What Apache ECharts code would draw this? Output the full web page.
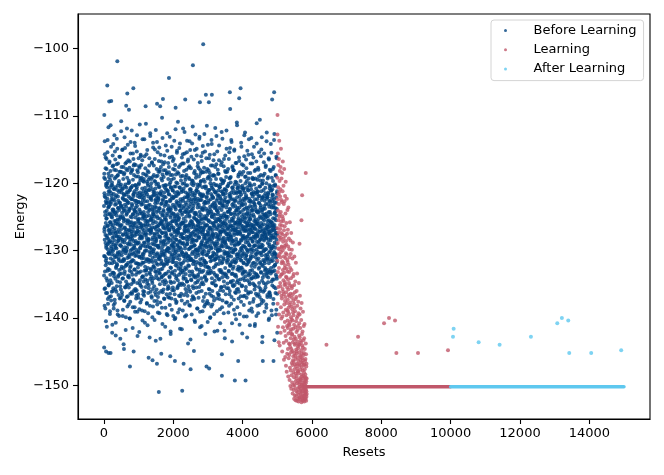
<!DOCTYPE html>
<html>
<head>
<meta charset="utf-8">
<script src="https://cdn.jsdelivr.net/npm/echarts@6.0.0/dist/echarts.min.js"></script>
<style>
html,body{margin:0;padding:0;background:#fff;}
#chart{width:664px;height:475px;}
</style>
</head>
<body>
<div id="chart"></div>
<script>
// ---------------- data ----------------
const xTicks = [0, 2000, 4000, 6000, 8000, 10000, 12000, 14000];
const yTicks = [-150, -140, -130, -120, -110, -100];
const seriesNames = ['Before Learning', 'Learning', 'After Learning'];

// resets 0..5000: energies read (estimated) from the dense cloud; two interleaved samples of the resets
const beforeStart = 0;
const beforeEnd = 5000;
const beforeEnergyA = [
-123.4,-130.8,-118.6,-127.2,-135.7,-121.9,-113.8,-126.5,-133.1,-119.4,-124.8,-138.6,-128.9,-116.2,-131.5,-122.7,-136.3,-120.1,-129.6,-125.3,
-131.2,-117.9,-124.1,-141.3,-127.8,-120.6,-134.5,-122.3,-115.4,-129.1,-126.4,-137.2,-119.8,-132.7,-123.6,-128.3,-111.7,-135.1,-121.2,-130.3,
-119.1,-128.7,-134.9,-122.8,-126.9,-116.8,-131.9,-124.5,-139.4,-120.7,-127.5,-133.6,-118.2,-125.8,-130.1,-123.1,-136.8,-114.6,-129.4,-121.5,
-127.1,-122.4,-136.1,-118.9,-130.6,-125.1,-142.2,-120.3,-128.1,-133.3,-115.9,-124.2,-131.4,-126.2,-117.4,-135.6,-123.9,-129.8,-138.1,-121.6,
-124.6,-133.8,-120.9,-128.5,-112.9,-131.7,-126.7,-119.3,-137.8,-123.2,-129.3,-116.5,-134.2,-122.1,-127.4,-140.7,-125.6,-118.1,-132.4,-130.9,
-121.8,-129.7,-117.2,-135.3,-124.3,-127.9,-132.2,-114.9,-126.1,-138.9,-120.4,-130.5,-123.7,-118.8,-133.9,-128.6,-122.6,-136.6,-125.9,-131.1,
-128.2,-119.7,-132.9,-125.4,-116.1,-130.2,-122.9,-137.1,-127.3,-121.1,-134.7,-124.9,-143.1,-118.3,-129.2,-126.3,-135.8,-120.2,-123.3,-110.8,
-133.4,-126.8,-121.4,-130.7,-118.4,-136.2,-124.4,-128.4,-115.1,-131.6,-122.2,-139.7,-127.7,-120.8,-134.1,-125.2,-129.9,-117.6,-132.6,-123.8,
-125.7,-118.7,-131.3,-137.4,-122.5,-128.8,-113.2,-133.5,-126.6,-120.5,-129.5,-135.4,-124.1,-117.1,-130.4,-141.8,-127.6,-121.7,-134.6,-123.5,
-130.1,-124.7,-116.9,-127.9,-136.9,-121.3,-132.1,-119.2,-126.0,-138.3,-123.0,-129.0,-114.3,-135.0,-125.5,-131.8,-120.0,-128.0,-133.7,-122.0,
-122.9,-135.5,-127.0,-119.9,-131.0,-124.0,-117.7,-133.0,-128.7,-140.1,-121.0,-126.2,-137.6,-130.0,-115.6,-125.0,-132.3,-118.5,-129.1,-123.7,
-127.5,-120.6,-133.2,-125.8,-112.2,-130.6,-123.1,-136.4,-128.3,-118.0,-131.4,-122.4,-138.4,-126.9,-119.5,-134.3,-124.6,-129.7,-116.4,-121.9,
-131.5,-126.5,-118.8,-135.9,-123.9,-129.3,-121.2,-132.8,-114.0,-127.8,-124.2,-139.1,-130.8,-120.3,-136.0,-125.1,-117.3,-128.6,-133.6,-122.6,
-124.3,-129.9,-136.7,-120.9,-127.3,-115.3,-131.9,-123.4,-134.8,-118.1,-126.7,-142.7,-121.5,-128.9,-132.5,-125.4,-119.0,-137.0,-130.3,-122.8,
-120.2,-132.0,-125.9,-117.5,-130.9,-127.2,-138.7,-122.1,-128.2,-111.3,-134.4,-124.5,-129.6,-119.6,-135.2,-126.0,-121.8,-133.1,-116.0,-127.9,
-129.2,-123.2,-137.3,-126.4,-119.2,-131.2,-121.6,-134.0,-128.0,-116.6,-125.3,-140.4,-130.5,-122.5,-133.9,-127.4,-118.6,-136.5,-124.8,-131.8,
-126.3,-134.6,-119.4,-128.8,-122.2,-136.1,-113.5,-130.2,-124.7,-139.0,-127.7,-120.7,-132.4,-125.6,-117.8,-129.4,-123.6,-135.4,-121.4,-131.6,
-133.0,-121.1,-127.6,-115.7,-130.0,-124.9,-137.9,-119.8,-128.5,-134.9,-122.7,-126.1,-141.1,-118.2,-131.3,-125.7,-120.4,-136.3,-129.0,-123.3,
-118.4,-128.4,-135.1,-123.8,-131.7,-126.9,-116.3,-133.3,-121.0,-129.5,-138.2,-124.0,-130.7,-112.6,-127.1,-134.2,-122.3,-120.5,-132.7,-125.5,
-127.0,-132.9,-120.0,-125.2,-136.8,-122.0,-129.8,-117.0,-134.5,-126.6,-123.5,-139.9,-131.1,-119.1,-128.1,-135.7,-124.4,-114.7,-130.1,-121.3,
-130.4,-124.6,-117.4,-129.1,-134.1,-121.7,-127.5,-137.5,-119.7,-132.6,-125.0,-115.0,-128.7,-136.2,-123.0,-131.5,-120.8,-126.8,-143.4,-122.4,
-125.8,-119.0,-133.7,-128.3,-121.9,-135.8,-124.3,-130.6,-113.9,-127.2,-138.0,-122.9,-129.3,-118.9,-132.1,-126.4,-136.9,-120.1,-124.1,-131.0,
-122.3,-131.3,-126.2,-116.7,-134.3,-129.6,-120.6,-127.9,-139.3,-123.7,-118.3,-133.4,-125.3,-130.9,-121.5,-137.7,-128.0,-115.8,-126.0,-132.8,
-128.6,-123.1,-136.0,-119.3,-130.3,-125.6,-133.9,-121.8,-127.4,-110.3,-131.9,-124.8,-140.9,-118.7,-129.4,-134.6,-122.6,-126.5,-117.2,-130.7,
-124.0,-129.0,-118.1,-132.3,-126.7,-137.1,-121.4,-128.5,-135.0,-123.4,-116.9,-130.5,-125.1,-133.5,-120.3,-127.3,-138.5,-122.1,-131.4,-114.4,
-131.9,-125.4,-120.9,-134.7,-127.8,-122.8,-136.5,-118.5,-129.9,-124.5,-132.0,-115.2,-126.3,-139.6,-121.2,-130.1,-123.9,-128.8,-135.3,-119.4,
-126.1,-133.1,-121.6,-128.2,-117.6,-131.6,-124.2,-137.0,-120.2,-127.0,-134.0,-113.1,-129.7,-122.5,-136.4,-125.9,-118.8,-132.5,-142.0,-123.6,
-120.7,-127.6,-134.8,-124.4,-130.8,-119.5,-126.6,-138.8,-122.0,-129.2,-116.1,-133.2,-125.7,-131.7,-121.1,-128.3,-135.5,-123.2,-117.9,-130.0,
-129.5,-122.2,-131.2,-116.4,-126.9,-135.9,-123.5,-128.9,-120.5,-133.6,-125.2,-140.2,-118.0,-130.4,-124.9,-137.3,-127.1,-121.9,-112.0,-132.2,
-123.9,-130.2,-125.5,-137.8,-119.9,-128.4,-133.8,-122.7,-127.7,-115.5,-131.1,-126.2,-135.6,-121.3,-129.1,-118.4,-134.4,-124.6,-139.2,-126.8,
-127.3,-121.5,-132.7,-118.6,-129.6,-125.1,-136.7,-123.3,-114.8,-131.3,-126.4,-134.9,-120.6,-128.6,-141.6,-124.1,-130.7,-117.3,-133.3,-122.8,
-132.4,-126.0,-119.6,-135.1,-123.8,-129.8,-121.0,-127.6,-137.4,-116.2,-130.3,-124.7,-133.0,-128.1,-118.9,-125.9,-138.9,-122.3,-131.8,-111.9,
-121.2,-128.9,-134.2,-125.3,-117.1,-130.9,-123.4,-136.6,-127.4,-120.0,-132.9,-126.5,-115.6,-129.3,-139.8,-124.3,-131.0,-119.1,-135.7,-122.9,
-125.6,-133.5,-120.4,-127.1,-130.6,-118.0,-136.2,-124.0,-128.3,-122.1,-134.6,-113.7,-129.0,-126.7,-137.6,-121.6,-131.5,-116.8,-123.7,-143.8,
-130.8,-122.6,-128.0,-135.3,-119.2,-126.3,-132.3,-121.7,-138.1,-124.8,-117.5,-129.7,-125.0,-133.7,-120.9,-127.8,-115.1,-136.1,-123.1,-131.2,
-124.2,-131.4,-117.8,-129.4,-126.6,-134.4,-120.1,-127.9,-139.5,-122.4,-130.5,-125.7,-114.1,-133.1,-128.4,-121.4,-136.8,-119.7,-126.1,-132.0,
-128.7,-120.3,-135.6,-123.0,-131.6,-116.5,-127.2,-133.9,-124.4,-129.2,-137.2,-121.8,-125.2,-118.2,-130.1,-140.6,-126.9,-122.2,-134.0,-112.8,
-122.7,-129.9,-126.4,-132.6,-118.7,-124.6,-136.3,-121.1,-128.5,-115.9,-131.7,-125.5,-134.7,-120.7,-127.5,-138.6,-123.6,-130.4,-117.0,-126.2,
-133.6,-125.8,-121.3,-128.1,-137.0,-123.2,-130.0,-119.0,-126.8,-135.4,-113.4,-129.5,-124.3,-132.8,-120.2,-127.3,-141.4,-122.5,-131.3,-118.1,
-126.6,-119.8,-131.9,-124.7,-129.1,-116.0,-134.1,-122.0,-128.8,-136.0,-121.9,-125.4,-133.2,-118.4,-130.2,-127.6,-139.0,-123.8,-114.5,-129.8,
-121.7,-130.6,-127.0,-135.0,-119.5,-125.9,-132.1,-123.5,-117.7,-128.2,-138.3,-124.9,-131.5,-120.5,-126.5,-133.8,-115.3,-129.3,-122.8,-142.4,
-129.0,-123.0,-136.4,-120.8,-127.7,-131.8,-118.3,-125.3,-134.3,-122.2,-130.7,-111.5,-128.6,-124.1,-137.5,-126.3,-119.3,-132.4,-121.5,-127.1,
-124.5,-132.5,-119.1,-129.4,-125.6,-137.9,-122.6,-130.0,-116.3,-127.9,-133.4,-121.0,-126.7,-135.8,-118.5,-128.3,-123.9,-140.0,-131.0,-120.0,
-131.6,-126.9,-122.4,-133.0,-117.4,-128.7,-124.2,-136.7,-120.4,-129.6,-114.2,-125.0,-134.8,-121.9,-127.4,-138.0,-123.4,-130.8,-118.9,-126.0,
-127.8,-120.9,-130.3,-124.6,-136.9,-118.8,-128.0,-133.3,-122.9,-126.4,-139.4,-115.7,-131.4,-125.2,-121.2,-134.5,-129.2,-123.1,-117.6,-132.3,
-123.6,-129.7,-135.2,-121.4,-127.5,-119.4,-132.0,-125.7,-113.0,-130.5,-124.0,-137.1,-128.1,-120.3,-133.7,-126.6,-141.9,-122.3,-129.0,-118.0,
-130.0,-124.3,-118.6,-131.1,-126.2,-134.2,-121.8,-128.4,-136.6,-116.6,-127.0,-132.9,-123.7,-129.9,-120.6,-125.5,-138.7,-122.0,-135.9,-127.7,
-125.1,-133.2,-120.2,-127.3,-130.9,-117.3,-124.8,-135.5,-122.5,-129.4,-112.4,-131.9,-126.1,-119.6,-134.0,-123.0,-128.9,-137.4,-121.3,-126.9,
-128.3,-121.6,-133.5,-125.9,-119.8,-131.3,-123.3,-139.3,-127.2,-116.4,-130.1,-124.5,-135.3,-120.9,-128.7,-122.7,-143.0,-126.4,-118.2,-132.6,
-122.1,-130.4,-126.0,-136.5,-118.4,-129.1,-124.9,-133.6,-121.1,-127.6,-114.9,-131.5,-125.3,-137.7,-123.2,-128.2,-120.5,-134.9,-126.8,-130.7,
-131.0,-125.0,-117.9,-129.5,-122.8,-135.6,-127.9,-120.1,-133.1,-124.2,-138.2,-126.5,-115.4,-130.2,-121.6,-128.5,-136.0,-123.9,-119.2,-132.1,
-126.2,-132.2,-121.9,-127.7,-119.1,-134.6,-124.6,-130.9,-113.6,-128.0,-136.9,-122.4,-129.7,-125.6,-140.8,-120.7,-131.6,-126.9,-117.5,-133.4,
-120.6,-128.6,-134.5,-123.5,-130.3,-126.3,-118.1,-132.4,-125.1,-137.3,-121.5,-127.4,-115.2,-131.7,-124.4,-135.1,-129.3,-122.6,-139.5,-127.0,
-129.8,-123.4,-131.8,-117.0,-126.7,-136.3,-121.3,-128.3,-133.9,-124.1,-119.9,-130.6,-125.8,-111.0,-134.7,-122.1,-127.5,-138.4,-120.8,-131.2,
-124.7,-130.5,-127.2,-135.7,-120.3,-125.5,-132.7,-118.7,-129.0,-122.9,-136.1,-126.1,-116.7,-133.0,-123.6,-141.0,-128.9,-121.2,-130.1,-125.9,
-127.6,-122.5,-134.3,-119.7,-131.4,-124.3,-128.4,-137.6,-121.7,-126.8,-114.6,-132.5,-123.3,-129.6,-117.2,-135.2,-125.4,-130.8,-120.4,-133.5,
-132.8,-126.4,-120.8,-129.3,-124.0,-136.8,-118.3,-127.8,-131.9,-122.3,-139.8,-125.7,-130.4,-116.0,-128.1,-134.4,-121.4,-126.6,-123.8,-112.5,
-123.1,-131.2,-125.2,-133.8,-119.0,-128.8,-135.4,-121.8,-127.1,-130.7,-117.8,-124.6,-137.0,-122.2,-129.9,-126.0,-142.9,-120.6,-132.0,-127.9,
-128.5,-121.0,-130.0,-126.3,-136.4,-123.7,-115.8,-131.6,-125.6,-119.3,-133.7,-127.4,-122.7,-138.9,-129.2,-124.5,-120.0,-135.0,-126.9,-131.3,
-125.4,-133.0,-118.5,-128.2,-122.6,-130.8,-127.0,-136.2,-120.9,-124.8,-113.3,-132.3,-126.2,-129.8,-121.5,-134.1,-123.5,-139.1,-117.1,-128.6,
-130.9,-124.1,-127.3,-119.4,-134.9,-122.8,-129.4,-116.2,-126.4,-137.2,-121.3,-131.8,-125.0,-133.3,-120.2,-128.0,-135.8,-123.2,-141.2,-126.7,
-122.4,-129.2,-135.3,-125.7,-118.0,-131.0,-123.9,-127.5,-133.5,-120.8,-126.1,-139.7,-124.2,-114.1,-130.5,-128.7,-121.6,-136.7,-127.8,-119.5,
-127.9,-133.9,-121.2,-126.0,-130.2,-117.7,-124.3,-136.5,-128.9,-122.0,-132.7,-125.3,-119.0,-134.8,-123.0,-129.5,-138.1,-121.9,-126.5,-110.6,
-124.9,-120.5,-131.7,-128.4,-136.0,-123.6,-127.1,-118.8,-133.2,-125.9,-130.3,-115.0,-129.1,-122.5,-137.8,-126.3,-132.1,-120.1,-143.6,-124.0,
-129.6,-126.8,-122.1,-134.0,-119.6,-127.6,-131.4,-124.7,-137.5,-121.0,-128.3,-116.9,-133.6,-125.5,-130.0,-123.4,-135.9,-118.6,-127.3,-131.9,
-123.8,-132.6,-127.7,-120.7,-129.8,-125.1,-135.0,-117.4,-126.9,-131.2,-122.3,-138.5,-128.1,-113.8,-124.5,-133.8,-121.8,-130.6,-126.1,-136.9,
-131.4,-125.6,-119.3,-128.9,-123.1,-134.7,-126.5,-121.4,-132.9,-127.2,-140.3,-124.3,-116.5,-130.3,-122.6,-129.4,-136.2,-120.3,-127.5,-133.1,
-126.4,-122.7,-130.1,-136.6,-124.6,-128.5,-118.2,-133.4,-125.7,-121.1,-131.6,-127.8,-115.5,-134.6,-123.6,-129.7,-139.6,-122.2,-126.9,-120.9,
-128.1,-134.3,-121.7,-126.3,-131.5,-119.7,-125.2,-137.9,-129.3,-123.3,-132.4,-117.6,-127.0,-135.4,-122.4,-130.4,-112.7,-126.2,-133.0,-124.4,
-125.3,-130.6,-123.7,-129.6,-120.4,-136.3,-127.4,-118.9,-133.6,-126.7,-122.9,-131.1,-138.8,-124.8,-128.4,-116.3,-134.2,-121.5,-130.9,-142.2
];
const beforeEnergyB = [
-133.7,-119.2,-126.8,-121.5,-138.2,-128.4,-115.7,-130.9,-124.3,-135.6,-122.1,-127.7,-117.8,-132.2,-125.9,-140.5,-120.4,-129.3,-123.0,-134.1,
-116.4,-125.2,-131.8,-122.9,-128.1,-136.3,-120.1,-133.0,-126.3,-113.6,-129.8,-124.6,-137.9,-121.7,-130.4,-118.6,-127.0,-135.2,-123.5,-128.9,
-130.5,-136.9,-123.3,-117.0,-127.4,-132.9,-121.2,-125.8,-139.0,-119.5,-128.6,-134.4,-124.7,-111.4,-131.2,-126.1,-122.8,-137.4,-129.7,-120.3,
-125.0,-121.9,-134.8,-128.8,-119.9,-131.9,-126.6,-141.0,-123.9,-117.5,-130.1,-136.0,-122.4,-127.5,-114.2,-133.3,-129.1,-124.1,-138.6,-120.8,
-128.0,-133.4,-118.0,-125.6,-130.7,-122.6,-137.3,-127.1,-115.3,-131.0,-124.4,-135.8,-120.6,-129.5,-142.6,-126.0,-119.1,-132.6,-123.1,-127.8,
-136.1,-124.8,-129.0,-113.4,-132.0,-121.0,-127.3,-134.6,-118.9,-125.4,-139.5,-130.3,-122.0,-117.1,-128.5,-133.7,-123.7,-126.9,-131.4,-120.0,
-121.3,-127.9,-139.7,-124.0,-118.3,-130.6,-133.5,-126.4,-122.9,-116.1,-129.2,-135.3,-125.1,-131.6,-120.5,-128.2,-137.0,-123.4,-112.3,-132.7,
-129.4,-117.6,-126.2,-132.4,-123.6,-136.6,-120.9,-128.7,-134.2,-115.0,-124.9,-130.2,-138.8,-122.3,-127.6,-119.4,-131.3,-125.3,-143.9,-121.6,
-124.1,-131.5,-121.8,-129.9,-137.5,-118.5,-126.7,-133.1,-123.2,-128.4,-114.8,-135.5,-120.2,-127.2,-132.3,-125.5,-139.9,-122.5,-130.0,-117.9,
-132.1,-126.9,-120.7,-135.1,-124.5,-111.9,-129.6,-122.7,-131.1,-127.5,-118.1,-136.8,-125.7,-133.9,-121.4,-128.1,-116.6,-130.8,-124.2,-138.0,
-119.6,-129.1,-134.0,-123.8,-127.0,-121.1,-140.1,-130.5,-116.8,-125.8,-132.5,-122.2,-136.4,-128.3,-113.9,-126.5,-131.7,-120.7,-127.9,-135.0,
-127.2,-122.4,-131.6,-118.2,-136.2,-125.1,-129.8,-123.3,-133.6,-120.4,-127.8,-141.5,-124.6,-115.6,-130.4,-126.3,-121.7,-134.7,-128.6,-117.4,
-134.5,-126.0,-121.5,-129.5,-117.2,-132.8,-124.1,-138.4,-127.3,-122.6,-130.3,-114.5,-125.9,-135.7,-120.3,-128.9,-123.6,-131.9,-119.0,-137.1,
-123.0,-130.7,-127.6,-135.9,-120.6,-126.4,-112.9,-133.2,-124.7,-129.0,-139.1,-121.9,-127.1,-118.4,-132.0,-125.6,-136.5,-122.8,-130.1,-116.3,
-128.8,-120.0,-133.3,-125.3,-142.1,-123.9,-131.0,-117.7,-127.7,-134.9,-121.4,-129.7,-124.2,-137.7,-119.3,-126.6,-115.8,-132.1,-128.0,-122.9,
-117.3,-126.2,-130.9,-122.1,-135.4,-128.2,-124.5,-138.9,-120.8,-131.8,-126.8,-113.5,-133.8,-123.1,-129.3,-119.7,-136.0,-125.0,-130.6,-121.2,
-131.1,-124.3,-119.8,-136.7,-127.0,-121.8,-133.0,-116.0,-128.9,-125.2,-140.7,-122.7,-130.0,-126.1,-134.3,-118.7,-127.4,-123.4,-111.2,-132.9,
-126.5,-133.6,-123.7,-128.1,-118.9,-131.3,-137.8,-121.6,-125.6,-115.1,-129.4,-134.5,-120.1,-127.0,-132.6,-124.3,-139.3,-122.0,-128.5,-119.5,
-121.0,-128.3,-135.6,-124.8,-131.4,-117.4,-126.3,-130.2,-142.9,-123.2,-119.2,-133.5,-127.5,-113.0,-129.6,-125.4,-136.1,-122.2,-131.5,-126.8,
-130.3,-119.4,-127.3,-133.9,-122.5,-137.0,-125.0,-116.9,-129.0,-123.9,-134.8,-120.9,-128.4,-131.7,-126.0,-138.3,-114.0,-124.6,-132.4,-121.8,
-125.6,-132.3,-118.8,-129.8,-124.0,-135.3,-121.3,-127.7,-140.3,-126.6,-116.4,-130.9,-123.5,-133.1,-119.8,-128.1,-122.6,-136.6,-112.1,-129.2,
-133.2,-123.6,-128.6,-120.2,-131.9,-117.9,-126.4,-137.5,-124.9,-130.4,-121.5,-134.1,-127.6,-115.4,-125.2,-139.2,-129.5,-122.1,-132.9,-118.3,
-122.5,-129.3,-136.3,-126.9,-120.5,-133.3,-114.7,-128.0,-123.8,-131.2,-118.0,-135.0,-125.9,-130.7,-121.6,-143.1,-127.1,-124.4,-132.0,-117.6,
-128.9,-121.2,-131.5,-116.8,-134.0,-126.1,-123.0,-138.5,-129.9,-119.6,-125.7,-132.7,-113.3,-127.4,-136.2,-122.4,-130.5,-124.7,-120.4,-133.7,
-135.8,-124.2,-119.1,-128.7,-126.2,-132.1,-122.0,-137.2,-115.9,-130.1,-125.4,-120.7,-134.4,-127.9,-141.3,-123.1,-129.1,-118.1,-131.0,-126.7,
-120.3,-127.5,-133.4,-122.8,-130.0,-125.8,-139.4,-118.6,-128.3,-124.8,-112.6,-131.6,-126.5,-135.7,-121.1,-129.6,-123.3,-136.9,-117.0,-128.2,
-129.7,-123.8,-127.0,-135.6,-118.4,-131.2,-121.7,-126.8,-133.8,-116.2,-124.0,-138.1,-130.3,-122.7,-128.5,-119.9,-134.6,-125.1,-142.4,-123.9,
-124.8,-132.6,-120.6,-126.3,-137.1,-129.2,-114.6,-133.4,-122.3,-127.8,-130.6,-118.8,-135.9,-125.6,-121.0,-131.3,-116.7,-128.8,-124.5,-139.7,
-131.7,-126.6,-122.1,-129.4,-119.3,-134.7,-124.6,-113.7,-130.8,-127.3,-136.5,-121.4,-128.0,-133.0,-117.3,-125.7,-140.0,-123.6,-129.9,-120.5,
-118.7,-128.4,-134.1,-123.1,-131.8,-126.0,-137.6,-121.9,-127.2,-115.2,-132.3,-124.9,-129.3,-120.0,-135.4,-126.9,-122.9,-110.9,-130.7,-125.5,
-127.4,-135.2,-121.6,-130.0,-125.3,-117.6,-133.6,-128.7,-123.4,-138.7,-120.7,-126.7,-131.9,-114.1,-129.5,-124.1,-136.8,-122.4,-127.9,-132.8,
-123.3,-119.0,-128.9,-136.4,-126.1,-132.0,-121.3,-127.6,-141.7,-124.4,-130.3,-117.1,-134.9,-125.8,-120.1,-129.0,-115.7,-133.3,-122.6,-128.1,
-130.6,-125.9,-133.9,-120.8,-128.2,-123.7,-118.2,-135.1,-126.9,-131.5,-112.4,-127.1,-137.9,-122.1,-129.7,-124.2,-132.5,-119.5,-126.4,-134.2,
-126.3,-121.4,-130.4,-125.0,-139.6,-118.8,-132.7,-127.9,-123.2,-115.4,-129.1,-134.6,-120.3,-128.6,-136.7,-124.5,-131.1,-121.9,-127.2,-116.5,
-132.2,-127.0,-117.7,-124.3,-129.8,-135.8,-122.2,-130.9,-126.2,-119.4,-133.1,-113.8,-128.3,-123.5,-138.2,-125.9,-121.2,-131.4,-143.2,-127.5,
-120.9,-129.6,-125.6,-134.3,-122.7,-116.1,-128.8,-131.3,-124.0,-137.3,-119.6,-127.4,-133.5,-121.8,-126.1,-130.2,-111.6,-135.3,-123.8,-129.4,
-128.4,-123.4,-137.0,-126.5,-131.6,-120.0,-125.1,-118.5,-133.7,-127.6,-122.4,-140.4,-129.2,-115.1,-130.6,-124.6,-134.8,-121.5,-127.8,-132.1,
-124.4,-131.0,-119.2,-128.5,-125.4,-135.5,-121.1,-129.8,-114.9,-126.9,-132.8,-123.1,-138.6,-127.0,-120.2,-130.0,-117.5,-133.8,-125.7,-122.3,
-134.4,-126.4,-122.6,-130.7,-117.8,-127.9,-136.1,-124.9,-131.9,-120.4,-128.1,-113.1,-125.6,-133.2,-121.7,-139.1,-129.6,-123.6,-126.0,-118.6,
-121.6,-127.1,-132.2,-119.7,-135.0,-125.2,-129.1,-122.5,-141.2,-116.7,-130.4,-126.6,-123.9,-134.7,-128.6,-120.6,-131.2,-115.5,-127.3,-137.5,
-129.3,-124.0,-118.4,-133.0,-126.8,-121.9,-136.9,-128.0,-123.0,-131.6,-112.7,-125.3,-130.1,-119.8,-134.0,-127.7,-122.8,-138.0,-126.3,-132.4,
-125.2,-131.8,-128.2,-120.5,-134.5,-123.8,-116.3,-129.5,-126.2,-137.8,-122.0,-130.6,-124.8,-117.9,-133.4,-128.8,-121.3,-140.6,-127.6,-114.3,
-133.1,-122.9,-127.4,-130.3,-118.1,-125.5,-135.7,-121.0,-128.4,-124.3,-132.6,-119.0,-136.4,-126.7,-115.8,-131.0,-123.5,-129.2,-139.9,-125.8,
-119.5,-126.6,-133.3,-124.5,-129.7,-121.6,-138.3,-127.8,-113.6,-131.4,-125.0,-134.1,-120.7,-128.3,-123.2,-136.0,-117.4,-130.8,-126.9,-122.1,
-127.6,-134.9,-122.2,-128.9,-116.6,-132.5,-125.9,-120.1,-137.4,-126.3,-130.5,-123.7,-142.0,-118.9,-129.0,-124.7,-133.6,-121.4,-111.8,-131.2,
-131.3,-125.7,-120.3,-135.2,-123.4,-129.3,-126.8,-117.2,-133.9,-122.6,-128.7,-139.0,-124.1,-130.9,-115.3,-127.9,-121.8,-136.3,-125.3,-129.9,
-124.6,-130.1,-127.7,-121.1,-136.6,-118.6,-132.0,-125.4,-129.6,-114.4,-134.3,-122.9,-128.2,-137.2,-120.6,-126.4,-131.5,-123.0,-140.8,-127.3,
-130.0,-122.3,-125.7,-132.9,-119.4,-127.2,-135.4,-121.2,-129.2,-124.0,-116.9,-133.2,-126.5,-138.4,-123.3,-128.6,-113.4,-131.7,-125.1,-120.0,
-123.5,-129.4,-136.0,-126.0,-121.7,-131.1,-117.5,-128.1,-134.6,-124.8,-119.6,-130.5,-127.0,-141.9,-122.5,-125.6,-133.4,-120.9,-128.9,-115.9,
-128.6,-133.8,-121.5,-127.3,-125.0,-137.7,-119.1,-130.3,-123.6,-112.2,-129.5,-126.2,-135.6,-122.8,-131.8,-118.3,-127.6,-134.0,-124.3,-130.4,
-126.7,-120.4,-131.4,-124.2,-139.2,-128.3,-122.7,-133.0,-116.4,-127.5,-130.7,-121.9,-136.5,-125.7,-119.3,-129.7,-123.8,-114.8,-132.3,-127.1,
-122.2,-128.0,-134.7,-119.9,-126.4,-131.9,-124.5,-137.9,-121.4,-129.0,-113.9,-133.5,-125.3,-128.4,-143.5,-123.2,-130.2,-117.7,-126.6,-135.1,
-132.7,-125.5,-121.0,-128.6,-135.3,-123.0,-118.1,-130.0,-126.9,-138.8,-122.4,-127.7,-115.0,-131.3,-124.7,-133.7,-120.2,-129.1,-125.9,-136.2,
-125.9,-119.8,-129.9,-133.6,-122.6,-127.0,-140.2,-124.0,-131.6,-117.0,-128.7,-121.5,-135.8,-126.1,-111.4,-130.9,-123.7,-132.8,-127.5,-120.7,
-129.1,-134.4,-123.9,-126.6,-119.0,-132.4,-125.2,-137.1,-121.3,-128.8,-116.2,-130.6,-124.4,-134.9,-127.2,-122.0,-139.4,-125.8,-118.4,-131.0,
-121.4,-127.4,-132.6,-125.5,-136.8,-120.6,-129.7,-114.0,-126.3,-131.5,-123.1,-128.5,-118.7,-135.3,-124.9,-130.0,-142.3,-122.7,-127.9,-133.3,
-130.5,-123.2,-128.1,-121.0,-134.1,-126.8,-117.4,-131.8,-124.6,-138.1,-120.8,-127.1,-133.2,-112.9,-129.4,-125.1,-136.7,-122.5,-128.3,-119.1,
-127.0,-133.1,-120.0,-129.6,-125.8,-135.9,-122.1,-116.5,-130.8,-126.4,-132.1,-123.6,-139.8,-119.7,-128.0,-124.5,-131.4,-115.2,-134.4,-126.9,
-124.1,-130.2,-126.3,-118.5,-133.4,-128.9,-121.1,-136.2,-125.0,-131.7,-113.5,-127.6,-122.3,-134.7,-129.2,-120.3,-137.8,-126.0,-141.1,-123.4,
-133.5,-125.3,-129.8,-122.8,-117.1,-131.1,-126.5,-134.2,-120.4,-128.2,-124.1,-138.6,-121.6,-130.3,-115.7,-127.3,-132.9,-123.9,-126.7,-119.2,
-122.0,-128.7,-131.9,-126.2,-137.6,-119.4,-124.7,-133.9,-127.9,-121.7,-130.0,-114.6,-125.6,-135.1,-123.0,-129.3,-118.2,-132.4,-126.8,-140.9,
-128.2,-134.0,-123.5,-119.3,-130.5,-125.4,-136.4,-121.4,-127.7,-132.0,-116.8,-126.0,-129.9,-111.1,-133.6,-124.2,-131.4,-122.4,-138.2,-127.0,
-125.7,-121.3,-133.8,-127.5,-124.4,-139.3,-129.4,-118.0,-131.2,-126.3,-122.9,-135.4,-115.4,-128.6,-132.5,-120.5,-127.2,-136.9,-124.0,-130.4,
-131.9,-126.5,-119.6,-128.3,-135.7,-123.3,-129.5,-116.0,-133.3,-125.1,-121.2,-137.3,-127.8,-130.7,-113.2,-124.3,-134.5,-122.2,-128.0,-142.8,
-120.1,-129.2,-125.3,-132.3,-127.1,-118.9,-136.1,-123.8,-130.1,-126.1,-134.8,-121.9,-128.5,-115.6,-131.6,-124.8,-139.1,-122.6,-127.4,-133.0,
-127.9,-124.6,-130.7,-121.5,-135.5,-117.6,-126.7,-132.8,-123.1,-129.8,-138.0,-120.0,-128.2,-125.0,-112.5,-133.4,-126.4,-131.2,-122.1,-136.6,
-133.3,-122.1,-127.6,-124.9,-130.9,-119.1,-134.0,-126.9,-121.6,-128.4,-116.3,-131.9,-125.5,-140.1,-123.5,-129.1,-136.3,-120.8,-127.3,-118.0,
-124.3,-131.3,-126.0,-136.9,-120.5,-128.1,-123.2,-114.2,-132.6,-125.8,-129.7,-121.1,-138.9,-127.1,-133.1,-119.2,-126.5,-130.6,-122.7,-135.2,
-129.4,-125.9,-121.8,-133.1,-117.9,-127.7,-131.0,-123.6,-137.2,-126.4,-120.4,-134.3,-128.1,-113.6,-130.2,-124.5,-143.3,-122.9,-128.8,-132.2,
-126.8,-120.2,-132.1,-128.0,-124.2,-135.6,-118.8,-130.5,-125.5,-139.5,-122.1,-127.4,-116.1,-133.9,-129.0,-123.8,-131.7,-121.2,-136.4,-127.6
];
// individually read sparse points of the before-learning phase [reset, energy]
const beforeOutliers = [
[2862,-99.4],[384,-101.9],[2565,-102.5],[1873,-104.4],[95,-105.5],[846,-105.9],[672,-106.7],[150,-107.9],[210,-107.8],
[640,-108.5],[720,-109.1],[1200,-108.6],[1530,-108.2],[1620,-108.6],[1700,-107.5],[2343,-107.6],[2767,-108.0],[2939,-106.9],
[3112,-106.9],[3026,-108.0],[3631,-106.5],[3939,-105.9],[3900,-107.4],[4908,-106.5],[4850,-107.6],[9,-109.9],[3640,-109.0],[2066,-108.8],
[1582,-151.0],[2256,-150.8],[749,-147.2],[3401,-148.6],[3775,-149.3],[4083,-149.3],[2498,-147.6],[2958,-147.2],[3034,-147.5],
[3401,-145.4],[3870,-146.4],[4582,-146.4],[4890,-146.4],[1288,-145.9],[1400,-146.3],[1527,-146.8],[1911,-145.7],[2046,-146.4],
[2296,-146.8],[5,-144.4],[60,-145.0],[130,-145.2],[190,-145.2],[576,-144.6],[855,-145.0],[1652,-145.3],[2594,-144.9]
];

// resets 5000..5850: learning phase cloud (estimated), evenly spread over the resets
const learningStart = 5000;
const learningEnd = 5850;
const learningEnergy = [
-119.2,-131.5,-112.8,-126.7,-137.9,-122.4,-128.9,-115.6,-133.2,-124.1,-141.3,-120.6,-129.7,-117.3,-135.4,-125.5,-130.8,-121.7,-127.3,-143.6,
-123.1,-116.4,-132.6,-127.9,-139.5,-121.3,-113.7,-129.8,-125.0,-136.2,-119.7,-130.5,-144.1,-124.6,-118.2,-133.9,-126.2,-128.4,-122.0,-134.8,
-126.8,-135.3,-120.9,-131.0,-117.6,-142.2,-128.1,-124.3,-138.4,-114.9,-130.2,-125.7,-133.6,-122.5,-140.1,-127.4,-119.3,-136.7,-129.5,-131.9,
-129.4,-122.8,-137.1,-126.3,-133.5,-118.5,-145.0,-131.6,-124.9,-139.8,-127.6,-121.2,-135.7,-130.0,-116.8,-132.9,-141.4,-125.3,-128.7,-136.1,
-131.8,-139.2,-125.6,-134.4,-120.4,-128.2,-143.7,-136.5,-123.1,-130.9,-146.2,-127.0,-133.3,-117.9,-138.0,-129.6,-135.1,-122.7,-141.9,-132.6,
-126.4,-134.7,-140.6,-129.3,-137.5,-121.9,-132.2,-145.8,-127.8,-136.9,-131.1,-124.5,-142.7,-135.0,-119.8,-138.8,-130.4,-147.1,-133.9,-128.6,
-136.2,-129.1,-143.4,-132.7,-125.9,-139.6,-134.0,-148.0,-130.6,-122.3,-137.8,-141.2,-127.5,-135.5,-145.3,-131.4,-138.9,-124.0,-133.1,-140.4,
-131.7,-141.5,-137.3,-126.9,-144.6,-134.3,-139.1,-129.4,-148.7,-135.8,-123.6,-142.3,-138.5,-132.1,-146.0,-136.6,-128.2,-140.9,-134.8,-143.8,
-139.4,-133.2,-145.5,-129.8,-141.1,-136.8,-149.2,-131.0,-143.9,-138.1,-125.8,-147.4,-135.2,-140.6,-132.6,-144.3,-137.7,-150.1,-128.5,-142.0,
-136.4,-143.0,-130.5,-147.8,-139.9,-134.1,-145.1,-141.7,-127.4,-150.5,-138.3,-144.6,-132.9,-148.5,-140.2,-135.6,-146.7,-129.9,-142.5,-137.0,
-142.4,-135.3,-149.6,-138.7,-144.9,-131.2,-147.0,-140.4,-151.2,-136.5,-143.6,-128.8,-146.3,-139.2,-133.8,-150.0,-141.6,-145.7,-137.4,-148.1,
-139.6,-146.5,-133.5,-150.7,-143.2,-137.9,-148.8,-141.0,-152.0,-135.1,-145.2,-130.9,-147.6,-142.8,-149.9,-138.5,-144.0,-151.5,-136.2,-146.9,
-145.6,-139.0,-150.4,-143.8,-134.6,-148.3,-141.4,-152.2,-146.1,-137.2,-149.4,-143.1,-131.8,-147.2,-140.5,-151.6,-144.7,-136.9,-149.0,-145.0,
-142.1,-148.6,-136.0,-150.9,-145.3,-140.0,-152.3,-146.8,-133.4,-149.7,-143.5,-138.2,-151.1,-147.5,-141.8,-145.9,-152.0,-139.7,-148.0,-144.2,
-147.9,-141.2,-150.6,-144.5,-137.6,-149.3,-146.4,-152.4,-139.3,-148.2,-143.9,-151.4,-134.8,-146.9,-150.3,-142.6,-149.8,-145.1,-140.8,-151.9,
-144.0,-149.5,-139.5,-151.8,-147.1,-142.9,-150.2,-136.7,-148.9,-145.6,-152.1,-141.5,-149.1,-146.2,-150.8,-138.6,-147.7,-143.4,-151.3,-145.8,
-149.2,-143.7,-151.0,-146.6,-140.3,-150.5,-148.4,-152.5,-144.8,-149.9,-137.8,-147.3,-151.7,-145.3,-142.4,-150.0,-148.7,-146.0,-152.2,-144.1,
-146.7,-150.9,-142.0,-149.6,-151.5,-147.8,-144.4,-152.3,-139.1,-149.0,-150.4,-146.3,-151.9,-143.3,-148.6,-152.0,-145.5,-150.1,-147.0,-141.2,
-150.3,-145.2,-151.6,-148.1,-143.0,-152.4,-149.5,-146.9,-150.8,-140.9,-151.2,-147.6,-149.9,-144.6,-152.1,-148.8,-150.6,-146.4,-151.8,-149.2,
-148.4,-151.1,-146.1,-150.2,-152.0,-149.7,-143.8,-151.4,-148.9,-150.7,-145.4,-152.3,-149.4,-147.2,-150.9,-151.7,-146.8,-150.2,-149.0,-151.3
];
const learningOutliers = [
[5005,-109.9],[5820,-118.5],[5715,-121.8],[5696,-125.5],[5640,-129.0],[6417,-144.0],[7329,-142.8],[8078,-140.8],
[8222,-140.0],[8395,-140.4],[8434,-145.2],[9058,-145.2],[9923,-144.8]
];
// converged runs: [first reset, last reset, energy]
const learningPlateau = [5800, 9995, -150.2];
const afterPlateau = [10000, 14999, -150.2];
const afterOutliers = [
[10067,-142.8],[10086,-141.6],[10807,-143.6],[11412,-144.0],[12315,-142.8],[13075,-140.8],[13208,-140.0],
[13392,-140.4],[13420,-145.2],[14054,-145.2],[14919,-144.8]
];

// ---------------- build ----------------
const colors = ['#00427f', '#c0576a', '#5ec8ef'];
const font = 'DejaVu Sans';
const minus = v => String(v).replace('-', '\u2212');

const spread = (arr, start, end, offset) =>
  arr.map((e, i) => [start + (i + offset) * (end - start) / arr.length, e]);
const beforeData = spread(beforeEnergyA, beforeStart, beforeEnd, 0)
  .concat(spread(beforeEnergyB, beforeStart, beforeEnd, 0.5))
  .concat(beforeOutliers);
const learningData = spread(learningEnergy, learningStart, learningEnd, 0).concat(learningOutliers);
const runLine = r => [[r[0], r[2]], [r[1], r[2]]];

const chart = echarts.init(document.getElementById('chart'), null, {renderer: 'canvas'});
const dot = 4;
chart.setOption({
  animation: false,
  backgroundColor: '#fff',
  textStyle: {fontFamily: font},
  grid: {left: 78, right: 14, top: 14, bottom: 56, show: true, borderColor: '#000', borderWidth: 1.1, backgroundColor: 'transparent'},
  legend: {
    orient: 'vertical', left: 491, top: 20,
    padding: [4, 7, 5, 13], itemGap: 6.3, itemWidth: 10, itemHeight: 3,
    icon: 'circle',
    borderColor: '#d4d4d4', borderWidth: 1, borderRadius: 3,
    backgroundColor: 'rgba(255,255,255,0.8)',
    textStyle: {fontFamily: font, fontSize: 13, color: '#000', padding: [0, 0, 0, 18]},
    data: seriesNames
  },
  xAxis: {
    type: 'value', min: -750, max: 15750,
    name: 'Resets', nameLocation: 'middle', nameGap: 27,
    nameTextStyle: {fontFamily: font, fontSize: 13, color: '#000'},
    axisLine: {show: true, onZero: false, lineStyle: {color: '#000', width: 1.1}},
    axisTick: {show: true, inside: false, length: 5, lineStyle: {color: '#000', width: 1.1}, customValues: xTicks},
    axisLabel: {fontFamily: font, fontSize: 13, color: '#000', margin: 8, customValues: xTicks, formatter: minus},
    splitLine: {show: false}
  },
  yAxis: {
    type: 'value', min: -155.0, max: -94.9,
    name: 'Energy', nameLocation: 'middle', nameGap: 51, nameMoveOverlap: false,
    nameTextStyle: {fontFamily: font, fontSize: 13, color: '#000'},
    axisLine: {show: true, onZero: false, lineStyle: {color: '#000', width: 1.1}},
    axisTick: {show: true, inside: false, length: 5, lineStyle: {color: '#000', width: 1.1}, customValues: yTicks},
    axisLabel: {fontFamily: font, fontSize: 13, color: '#000', margin: 9, customValues: yTicks, formatter: minus},
    splitLine: {show: false}
  },
  series: [
    {name: seriesNames[0], type: 'scatter', data: beforeData, symbolSize: dot, itemStyle: {color: colors[0]}, large: false},
    {name: seriesNames[1], type: 'scatter', data: learningData, symbolSize: dot, itemStyle: {color: colors[1]}},
    {name: seriesNames[1], type: 'line', data: runLine(learningPlateau), showSymbol: false, symbol: 'none',
      lineStyle: {color: colors[1], width: 3.5, cap: 'round'}, itemStyle: {color: colors[1]}},
    {name: seriesNames[2], type: 'scatter', data: afterOutliers, symbolSize: dot, itemStyle: {color: colors[2]}},
    {name: seriesNames[2], type: 'line', data: runLine(afterPlateau), showSymbol: false, symbol: 'none',
      lineStyle: {color: colors[2], width: 3.5, cap: 'round'}, itemStyle: {color: colors[2]}}
  ]
});
</script>
</body>
</html>
